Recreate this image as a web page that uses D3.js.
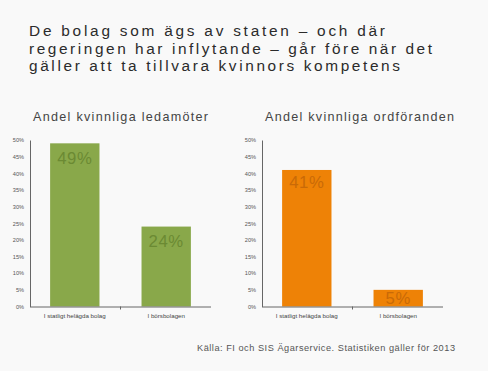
<!DOCTYPE html>
<html>
<head>
<meta charset="utf-8">
<script src="https://cdn.jsdelivr.net/npm/d3@7"></script>
<style>
  html, body { margin: 0; padding: 0; background: #f9f9f9; }
  svg { display: block; }
</style>
</head>
<body>
<div id="chart"></div>
<script>
const titleLines = [
  "De bolag som ägs av staten – och där",
  "regeringen har inflytande – går före när det",
  "gäller att ta tillvara kvinnors kompetens"
];
const categories = ["I statligt helägda bolag", "I börsbolagen"];
const ledamoter = [49, 24];
const ordforanden = [41, 5];
const yTicks = [0, 5, 10, 15, 20, 25, 30, 35, 40, 45, 50];
const sourceText = "Källa: FI och SIS Ägarservice. Statistiken gäller för 2013";

const W = 488, H = 371;
const font = "'Liberation Sans', Arial, Helvetica, sans-serif";
// widths the reference text runs to (the original font is wider)
const titleWidths = [356, 403, 371];

const svg = d3.select("#chart").append("svg")
  .attr("width", W)
  .attr("height", H)
  .style("font-family", font);

svg.append("rect").attr("width", W).attr("height", H).attr("fill", "#f9f9f9");

// title
svg.append("g").selectAll("text")
  .data(titleLines)
  .join("text")
  .attr("x", 29)
  .attr("y", (d, i) => 36.3 + i * 17.2)
  .attr("font-size", 15.4)
  .attr("fill", "#2b2b2b")
  .attr("textLength", (d, i) => titleWidths[i])
  .attr("lengthAdjust", "spacing")
  .text(d => d);

// one bar panel
function panel(opts) {
  const { x0, x1, heading, headingW, values, fill, labelFill, labelOffset } = opts;
  const yBase = 306.5, yTop = 140;

  const x = d3.scaleBand()
    .domain(categories)
    .range([x0, x1])
    .paddingInner(0.46)
    .paddingOuter(0.22);

  const y = d3.scaleLinear().domain([0, 50]).range([yBase, yTop]);

  const g = svg.append("g");

  g.append("text")
    .attr("x", x0 + 3)
    .attr("y", 120.5)
    .attr("font-size", 12.6)
    .attr("fill", "#444")
    .attr("textLength", headingW)
    .attr("lengthAdjust", "spacing")
    .text(heading);

  // y axis
  const yAxis = g.append("g")
    .attr("transform", `translate(${x0},0)`)
    .call(d3.axisLeft(y).tickValues(yTicks).tickSize(0).tickPadding(6).tickFormat(d => d + "%"));
  yAxis.select(".domain").attr("stroke", "#666");
  yAxis.selectAll("text")
    .attr("font-size", 5.6)
    .attr("fill", "#555")
    .attr("font-family", font);

  g.selectAll("rect.bar")
    .data(values)
    .join("rect")
    .attr("class", "bar")
    .attr("x", (d, i) => x(categories[i]))
    .attr("y", d => y(d))
    .attr("width", x.bandwidth())
    .attr("height", d => yBase - y(d))
    .attr("fill", fill);

  // value labels hang inside the top of the bar, short bars keep them inside
  g.selectAll("text.val")
    .data(values)
    .join("text")
    .attr("class", "val")
    .attr("x", (d, i) => x(categories[i]) + x.bandwidth() / 2)
    .attr("y", d => y(d) + Math.min(labelOffset, yBase - y(d) - 3))
    .attr("text-anchor", "middle")
    .attr("font-size", 16.7)
    .attr("letter-spacing", 0.6)
    .attr("fill", labelFill)
    .text(d => d + "%");

  // x axis line with middle tick
  g.append("line")
    .attr("x1", x0).attr("x2", x1)
    .attr("y1", yBase + 0.5).attr("y2", yBase + 0.5)
    .attr("stroke", "#666");
  const midX = (x(categories[0]) + x.bandwidth() + x(categories[1])) / 2;
  g.append("line")
    .attr("x1", midX).attr("x2", midX)
    .attr("y1", yBase).attr("y2", yBase + 3)
    .attr("stroke", "#666");

  g.selectAll("text.cat")
    .data(categories)
    .join("text")
    .attr("class", "cat")
    .attr("x", d => x(d) + x.bandwidth() / 2)
    .attr("y", 317.5)
    .attr("text-anchor", "middle")
    .attr("font-size", 6.2)
    .attr("fill", "#444")
    .text(d => d);
}

panel({
  x0: 30, x1: 211,
  heading: "Andel kvinnliga ledamöter",
  headingW: 175,
  values: ledamoter,
  fill: "#89a84a",
  labelFill: "#6b8a33",
  labelOffset: 20.5
});

panel({
  x0: 262, x1: 443,
  heading: "Andel kvinnliga ordföranden",
  headingW: 189,
  values: ordforanden,
  fill: "#ee8206",
  labelFill: "#c96a07",
  labelOffset: 18
});

svg.append("text")
  .attr("x", 197)
  .attr("y", 351)
  .attr("font-size", 9.2)
  .attr("fill", "#555")
  .attr("textLength", 258)
  .attr("lengthAdjust", "spacing")
  .text(sourceText);
</script>
</body>
</html>
